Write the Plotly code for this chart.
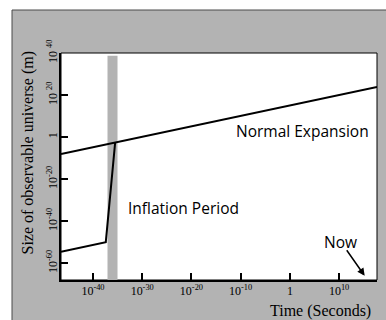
import plotly.graph_objects as go

# ---- data (log10 exponents) ----
early_time_exp = [-46.5, -37.4, -35.5]      # pre-inflation + inflation path
early_size_exp = [-54.6, -50.0, -2.6]
normal_time_exp = [-46.5, 17.7]             # normal expansion line
normal_size_exp = [-8.1, 23.8]
inflation_band_exp = [-37.05, -35.02]       # inflation period (time)
band_top_exp = 38.7

x_tick_exp = [-40, -30, -20, -10, 0, 10]
x_tick_text = ["10<sup>-40</sup>", "10<sup>-30</sup>", "10<sup>-20</sup>",
               "10<sup>-10</sup>", "1", "10<sup>10</sup>"]
y_tick_exp = [40, 20, 0, -20, -40, -60]
y_tick_text = ["10 <sup>40</sup>", "10 <sup>20</sup>", "1",
               "10<sup>-20</sup>", "10<sup>-40</sup>", "10<sup>-60</sup>"]

p = lambda e: [10.0 ** v for v in e]

GRAY = "#b3b3b3"
SERIF = "Liberation Serif, Times New Roman, serif"
HAND = "Comic Sans MS, Open Sans, sans-serif"

fig = go.Figure()
fig.add_trace(go.Scatter(x=p(early_time_exp), y=p(early_size_exp), mode="lines",
                         line=dict(color="black", width=2), showlegend=False,
                         hoverinfo="skip"))
fig.add_trace(go.Scatter(x=p(normal_time_exp), y=p(normal_size_exp), mode="lines",
                         line=dict(color="black", width=2), showlegend=False,
                         hoverinfo="skip"))

L, R, T, B = 61, 9, 53, 40
W, H = 386, 320
pw, ph = W - L - R, H - T - B
px = lambda x: (x - L) / pw
py = lambda y: (H - B - y) / ph

shapes = [
    # gray outer panel with dark border
    dict(type="rect", xref="paper", yref="paper", layer="below",
         x0=px(12), x1=px(400), y0=py(335), y1=py(10),
         fillcolor=GRAY, line=dict(color="#4a4a4a", width=1)),
    # white plot area
    dict(type="rect", xref="paper", yref="paper", layer="below",
         x0=0, x1=1, y0=0, y1=1, fillcolor="white",
         line=dict(color="black", width=1)),
    # inflation band
    dict(type="rect", xref="x", yref="y", layer="below",
         x0=10 ** inflation_band_exp[0], x1=10 ** inflation_band_exp[1],
         y0=1e-80, y1=10 ** band_top_exp, fillcolor=GRAY, line=dict(width=0)),
]

annotations = [
    dict(x=2.5, y=3.0, xref="x", yref="y", text="Normal Expansion", showarrow=False,
         xanchor="center", yanchor="middle",
         font=dict(family=HAND, size=15.5, color="black")),
    dict(x=-21.7, y=-33.8, xref="x", yref="y", text="Inflation Period", showarrow=False,
         xanchor="center", yanchor="middle",
         font=dict(family=HAND, size=15.5, color="black")),
    dict(x=10.2, y=-49.7, xref="x", yref="y", text="Now", showarrow=False,
         xanchor="center", yanchor="middle",
         font=dict(family=HAND, size=15.5, color="black")),
    dict(x=15.2, y=-66.0, xref="x", yref="y", text="", showarrow=True,
         ax=-19, ay=-27, arrowhead=2, arrowsize=1, arrowwidth=1.5,
         arrowcolor="black", standoff=0),
    dict(x=px(320), y=py(310.7), xref="paper", yref="paper", text="Time (Seconds)",
         showarrow=False, xanchor="center", yanchor="middle",
         font=dict(family=SERIF, size=16, color="black")),
    dict(x=px(27), y=py(153.5), xref="paper", yref="paper",
         text="Size of observable universe (m)", xanchor="center", yanchor="middle",
         showarrow=False, textangle=-90, font=dict(family=SERIF, size=16, color="black")),
]

fig.update_layout(
    width=W, height=H,
    margin=dict(l=L, r=R, t=T, b=B, pad=0),
    paper_bgcolor="white", plot_bgcolor="white",
    shapes=shapes, annotations=annotations,
    showlegend=False,
    xaxis=dict(type="log", range=[-46.5, 17.7], showgrid=False, zeroline=False,
               showline=True, linecolor="black", linewidth=2,
               ticks="inside", ticklen=7, tickwidth=1.5, tickcolor="black",
               tickvals=p(x_tick_exp), ticktext=x_tick_text, ticklabelstandoff=-1,
               tickfont=dict(family=SERIF, size=12, color="black")),
    yaxis=dict(type="log", range=[-68, 40], showgrid=False, zeroline=False,
               showline=True, linecolor="black", linewidth=2,
               ticks="inside", ticklen=7, tickwidth=1.5, tickcolor="black",
               tickvals=p(y_tick_exp), ticktext=y_tick_text, tickangle=-90,
               ticklabelstandoff=-3,
               tickfont=dict(family=SERIF, size=12, color="black")),
)

fig.write_html("out.html", config={"displayModeBar": False},
               post_script="document.body.style.margin='0';document.body.style.overflow='hidden';")
